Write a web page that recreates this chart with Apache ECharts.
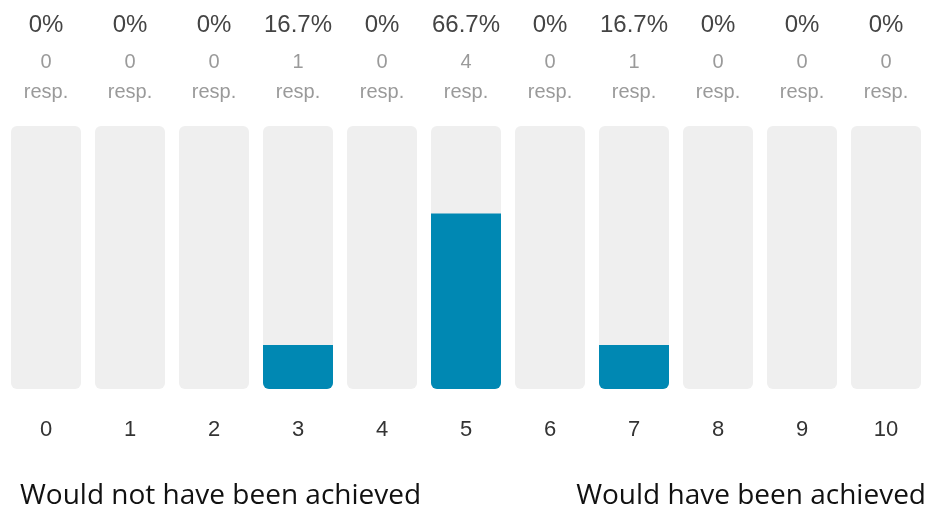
<!DOCTYPE html>
<html>
<head>
<meta charset="utf-8">
<script src="https://cdn.jsdelivr.net/npm/echarts@6/dist/echarts.min.js"></script>
<style>
  html, body { margin: 0; padding: 0; background: #fff; }
  #chart { width: 930px; height: 512px; }
</style>
</head>
<body>
<div id="chart"></div>
<script>
// scale 0..10
var categories = ['0', '1', '2', '3', '4', '5', '6', '7', '8', '9', '10'];
var percents = [0, 0, 0, 16.7, 0, 66.7, 0, 16.7, 0, 0, 0];
var pctLabels = ['0%', '0%', '0%', '16.7%', '0%', '66.7%', '0%', '16.7%', '0%', '0%', '0%'];
var responses = [0, 0, 0, 1, 0, 4, 0, 1, 0, 0, 0];
var leftNote = 'Would not have been achieved';
var rightNote = 'Would have been achieved';

var chart = echarts.init(document.getElementById('chart'));

var option = {
    animation: false,
    grid: { left: 4, right: 2, top: 126, bottom: 123 },
    xAxis: [{
        type: 'category',
        data: categories,
        axisLine: { show: false },
        axisTick: { show: false },
        axisLabel: {
            margin: 30,
            fontSize: 22,
            color: '#333',
            fontFamily: 'Liberation Sans'
        }
    }, {
        type: 'category',
        position: 'top',
        data: categories,
        axisLine: { show: false },
        axisTick: { show: false },
        axisLabel: {
            margin: 23,
            fontFamily: 'Liberation Sans',
            formatter: function (val, i) {
                return '{p|' + pctLabels[i] + '}\n{n|' + responses[i] + '}\n{r|resp.}';
            },
            rich: {
                p: { fontSize: 24, lineHeight: 36, color: '#444', fontFamily: 'Liberation Sans' },
                n: { fontSize: 20, lineHeight: 38, color: '#9a9a9a', fontFamily: 'Liberation Sans' },
                r: { fontSize: 20, lineHeight: 22, color: '#9a9a9a', fontFamily: 'Liberation Sans' }
            }
        }
    }],
    yAxis: { type: 'value', min: 0, max: 100, show: false },
    series: [{
        type: 'bar',
        data: percents,
        barWidth: 70,
        showBackground: true,
        backgroundStyle: { color: '#efefef', borderRadius: 6 },
        itemStyle: { color: '#0088b3', borderRadius: [0, 0, 6, 6] }
    }],
    graphic: [{
        type: 'text',
        left: 20,
        top: 482,
        style: { text: leftNote, font: '28px "Open Sans"', fill: '#111' }
    }, {
        type: 'text',
        right: 4,
        top: 482,
        style: { text: rightNote, font: '28px "Open Sans"', fill: '#111' }
    }]
};

chart.setOption(option);
</script>
</body>
</html>
